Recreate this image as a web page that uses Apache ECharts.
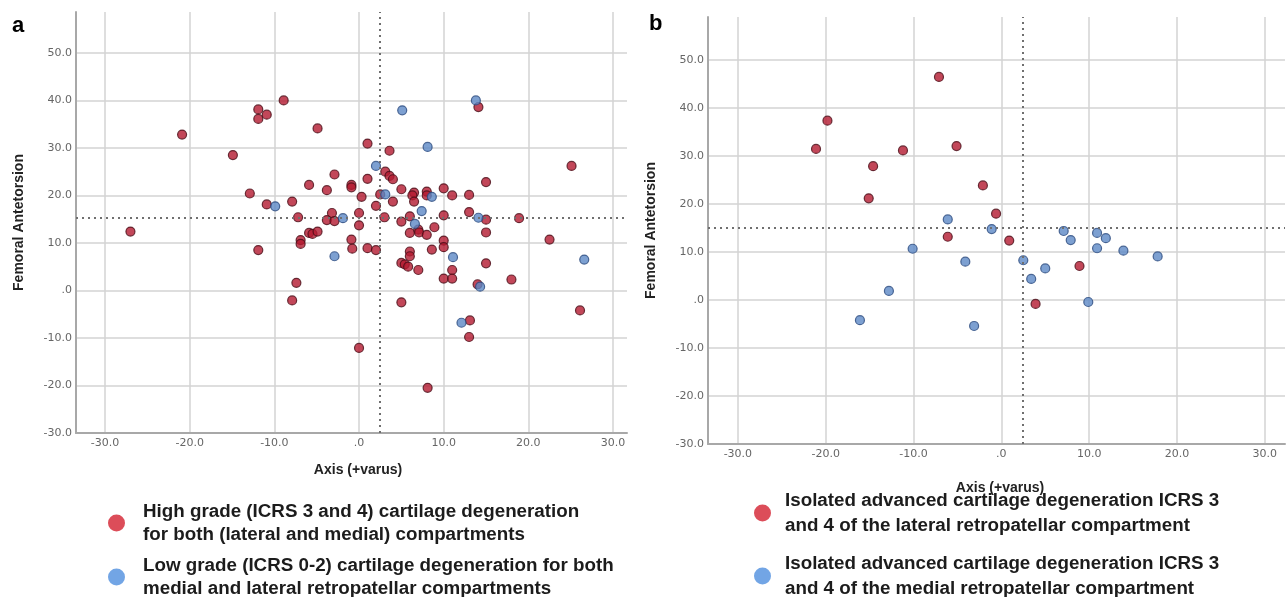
<!DOCTYPE html>
<html>
<head>
<meta charset="utf-8">
<script src="https://cdn.jsdelivr.net/npm/echarts@6/dist/echarts.min.js"></script>
<style>
  html, body { margin: 0; padding: 0; background: #fff; }
  #chart { width: 1287px; height: 597px; }
</style>
</head>
<body>
<div id="chart"></div>
<script>
// tick values shared by both panels
const xTicks = [-30, -20, -10, 0, 10, 20, 30];
const yTicks = [-30, -20, -10, 0, 10, 20, 30, 40, 50];

// panel a: [axis (+varus), femoral antetorsion]
const aHigh = [
  [-27.0, 12.4], [-20.9, 32.8], [-14.9, 28.5], [-12.9, 20.4], [-11.9, 38.1], [-11.9, 36.1],
  [-10.9, 37.0], [-11.9, 8.5], [-10.9, 18.1], [-8.9, 40.0], [-7.9, 18.7], [-7.2, 15.4],
  [-7.4, 1.6], [-7.9, -2.1], [-6.9, 10.6], [-6.9, 9.8], [-5.9, 22.2], [-5.9, 12.1],
  [-5.5, 11.9], [-4.9, 12.4], [-4.9, 34.1], [-3.8, 21.1], [-2.9, 24.4], [-3.2, 16.3],
  [-3.8, 14.8], [-2.9, 14.6], [-0.9, 22.2], [-0.9, 21.7], [-0.9, 10.7], [-0.8, 8.8],
  [0.0, 16.3], [0.0, 13.7], [0.0, -12.1], [0.3, 19.7], [1.0, 30.9], [1.0, 23.5],
  [1.0, 8.9], [2.0, 17.8], [2.0, 8.5], [2.5, 20.2], [3.0, 15.4], [3.1, 25.0],
  [3.6, 24.1], [4.0, 23.4], [3.6, 29.4], [4.0, 18.7], [5.0, 21.3], [5.0, 14.5],
  [5.0, 5.8], [5.4, 5.5], [5.8, 5.0], [5.0, -2.5], [6.0, 15.6], [6.0, 12.1],
  [6.0, 8.2], [6.0, 7.2], [6.5, 20.6], [6.3, 20.0], [6.5, 18.7], [7.0, 12.8],
  [7.1, 12.2], [7.0, 4.3], [8.0, 20.8], [8.0, 20.0], [8.0, 11.7], [8.6, 8.6],
  [8.9, 13.3], [8.1, -20.5], [10.0, 21.5], [10.0, 15.8], [10.0, 10.5], [10.0, 9.1],
  [10.0, 2.5], [11.0, 20.0], [11.0, 4.3], [11.0, 2.5], [13.0, 20.1], [13.0, 16.5],
  [13.1, -6.3], [13.0, -9.8], [14.1, 38.6], [14.0, 1.3], [15.0, 22.8], [15.0, 14.9],
  [15.0, 12.2], [15.0, 5.7], [18.0, 2.3], [18.9, 15.2], [22.5, 10.7], [25.1, 26.2],
  [26.1, -4.2]
];
const aLow = [
  [-9.9, 17.7], [-1.9, 15.2], [-2.9, 7.2], [2.0, 26.2], [3.1, 20.2], [5.1, 37.9],
  [8.1, 30.2], [13.8, 40.0], [8.6, 19.7], [7.4, 16.7], [6.6, 14.0], [14.1, 15.3],
  [11.1, 7.0], [14.3, 0.8], [12.1, -6.8], [26.6, 6.5]
];
const aRef = [2.5, 15.4]; // dotted lines: x, y

// panel b
const bLateral = [
  [-7.1, 46.5], [-19.8, 37.4], [-21.1, 31.5], [-11.2, 31.2], [-5.1, 32.1], [-14.6, 27.9],
  [-15.1, 21.2], [-2.1, 23.9], [-6.1, 13.2], [-0.6, 18.0], [0.9, 12.4], [3.9, -0.8],
  [8.9, 7.1]
];
const bMedial = [
  [-6.1, 16.8], [-1.1, 14.8], [-10.1, 10.7], [-4.1, 8.0], [-12.8, 1.9], [-16.1, -4.2],
  [-3.1, -5.4], [2.5, 8.3], [3.4, 4.4], [5.0, 6.6], [7.1, 14.4], [7.9, 12.5],
  [10.9, 14.0], [11.9, 12.9], [10.9, 10.8], [13.9, 10.3], [17.8, 9.1], [9.9, -0.4]
];
const bRef = [2.4, 15.0];

const names = {
  aHigh: 'High grade (ICRS 3 and 4) cartilage degeneration\nfor both (lateral and medial) compartments',
  aLow: 'Low grade (ICRS 0-2) cartilage degeneration for both\nmedial and lateral retropatellar compartments',
  bLateral: 'Isolated advanced cartilage degeneration ICRS 3\nand 4 of the lateral retropatellar compartment',
  bMedial: 'Isolated advanced cartilage degeneration ICRS 3\nand 4 of the medial retropatellar compartment'
};

const RED = { color: '#b3192f', borderColor: '#4a0c16', borderWidth: 1.2 };
const BLUE = { color: '#5d88c6', borderColor: '#2b4a7e', borderWidth: 1.2 };

const tickLabel = { color: '#666', fontSize: 11, fontFamily: 'DejaVu Sans' };
const axisName = { color: '#222', fontSize: 14, fontWeight: 'bold', fontFamily: 'Liberation Sans' };
const gridLine = { color: '#d3d3d3', width: 1.5 };
const axisLine = { color: '#a8a8a8', width: 2 };

function fmt(v) {
  return v === 0 ? '.0' : v.toFixed(1);
}

function xAxis(grid, min, max, gap, pad) {
  return {
    type: 'value', gridIndex: grid, min: min, max: max,
    name: 'Axis (+varus)', nameLocation: 'middle', nameGap: gap,
    nameTextStyle: Object.assign({ padding: pad }, axisName),
    axisLine: { show: true, onZero: false, lineStyle: axisLine },
    axisTick: { show: false, customValues: xTicks },
    axisLabel: Object.assign({ customValues: xTicks, margin: 5, formatter: fmt }, tickLabel),
    splitLine: { show: true, lineStyle: gridLine }
  };
}

function yAxis(grid, max, gap) {
  return {
    type: 'value', gridIndex: grid, min: -30, max: max,
    name: 'Femoral Antetorsion', nameLocation: 'middle', nameGap: gap,
    nameTextStyle: axisName,
    axisLine: { show: true, onZero: false, lineStyle: axisLine },
    axisTick: { show: false, customValues: yTicks },
    axisLabel: Object.assign({ customValues: yTicks, margin: 4, formatter: fmt }, tickLabel),
    splitLine: { show: true, lineStyle: gridLine }
  };
}

function refLines(ref) {
  return {
    silent: true,
    symbol: ['none', 'none'],
    label: { show: false },
    lineStyle: { color: '#6f6f6f', width: 2, type: [2, 4] },
    data: [{ xAxis: ref[0] }, { yAxis: ref[1] }]
  };
}

function legend(items, left, top, gap, lh, pad) {
  return {
    data: items,
    orient: 'vertical', left: left, top: top, height: 130, padding: 0, itemGap: gap,
    icon: 'circle', itemWidth: 17, itemHeight: 17,
    textStyle: {
      fontSize: 18.8, fontWeight: 'bold', lineHeight: lh, color: '#1c1c1c',
      fontFamily: 'Liberation Sans', padding: [0, 0, 0, pad]
    }
  };
}

const chart = echarts.init(document.getElementById('chart'), null, { renderer: 'canvas' });

chart.setOption({
  animation: false,
  title: [
    { text: 'a', left: 7, top: 10, textStyle: { fontSize: 22, fontWeight: 'bold', color: '#000', fontFamily: 'Liberation Sans' } },
    { text: 'b', left: 644, top: 8, textStyle: { fontSize: 22, fontWeight: 'bold', color: '#000', fontFamily: 'Liberation Sans' } }
  ],
  grid: [
    { left: 76, top: 12, width: 551, height: 421 },
    { left: 708, top: 17, width: 577, height: 427 }
  ],
  xAxis: [xAxis(0, -33.43, 31.65, 30, [0, 0, 0, 13]), xAxis(1, -33.4, 32.3, 37, [0, 0, 0, 7])],
  yAxis: [yAxis(0, 58.6, 50), yAxis(1, 59, 50)],
  legend: [
    legend([
      { name: names.aHigh, itemStyle: { color: '#d3202f', borderWidth: 0 } },
      { name: names.aLow, itemStyle: { color: '#4f8fde', borderWidth: 0 } }
    ], 108, 500, 8, 23, 13),
    legend([
      { name: names.bLateral, itemStyle: { color: '#d3202f', borderWidth: 0 } },
      { name: names.bMedial, itemStyle: { color: '#4f8fde', borderWidth: 0 } }
    ], 754, 488, 13, 25, 9)
  ],
  series: [
    { name: names.aHigh, type: 'scatter', xAxisIndex: 0, yAxisIndex: 0, data: aHigh, symbolSize: 9, itemStyle: RED, markLine: refLines(aRef) },
    { name: names.aLow, type: 'scatter', xAxisIndex: 0, yAxisIndex: 0, data: aLow, symbolSize: 9, itemStyle: BLUE },
    { name: names.bLateral, type: 'scatter', xAxisIndex: 1, yAxisIndex: 1, data: bLateral, symbolSize: 9, itemStyle: RED, markLine: refLines(bRef) },
    { name: names.bMedial, type: 'scatter', xAxisIndex: 1, yAxisIndex: 1, data: bMedial, symbolSize: 9, itemStyle: BLUE }
  ]
});
</script>
</body>
</html>
